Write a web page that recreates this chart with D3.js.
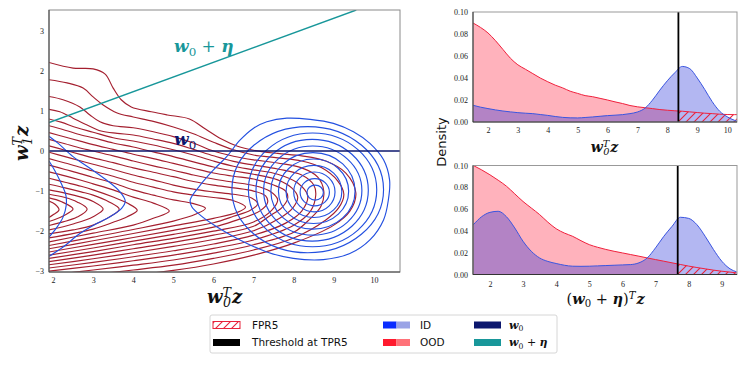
<!DOCTYPE html>
<html><head><meta charset="utf-8">
<script src="https://cdn.jsdelivr.net/npm/d3@7"></script>
<style>body{margin:0;background:#fff}</style>
</head><body>
<svg id="c" width="750" height="365" xmlns="http://www.w3.org/2000/svg"></svg>
<script>
// ---------------- DATA ----------------
// Left panel: projection lines
const w0Line = [[1.9, 0], [10.65, 0]];
const etaLine = [[1.9, 0.71], [9.56, 3.52]];
const leftXTicks = [2, 3, 4, 5, 6, 7, 8, 9, 10];
const leftYTicks = [-3, -2, -1, 0, 1, 2, 3];

const oodContours = [
 [[1.9,2.21],[2.5,2.07],[3.0,2.05],[3.3,1.92],[3.5,1.57],[3.7,1.28],[3.95,1.1],[4.45,0.98],[4.85,0.9],[5.4,0.8],[5.8,0.55],[6.2,0.3],[6.6,0.12],[7.0,0.02],[7.6,-0.06],[8.2,-0.12],[8.8,-0.25],[9.3,-0.55],[9.55,-1.05],[9.4,-1.5],[9.0,-1.85],[8.0,-2.3],[7.0,-2.6],[6.0,-2.82],[5.0,-2.98],[4.0,-3.1],[3.0,-3.2]],
 [[1.9,1.78],[2.35,1.7],[2.75,1.57],[3.0,1.35],[3.25,1.15],[3.6,0.95],[4.0,0.85],[4.5,0.74],[5.0,0.6],[5.5,0.43],[6.0,0.22],[6.5,0.03],[7.0,-0.1],[7.6,-0.17],[8.2,-0.25],[8.7,-0.42],[9.1,-0.75],[9.25,-1.08],[9.12,-1.42],[8.8,-1.72],[8.0,-2.17],[7.0,-2.47],[6.0,-2.68],[5.0,-2.85],[4.0,-2.97],[3.0,-3.08],[1.9,-3.2]],
 [[1.9,1.36],[2.25,1.28],[2.67,1.1],[2.92,0.9],[3.17,0.73],[3.5,0.63],[4.0,0.58],[4.5,0.48],[5.0,0.36],[5.5,0.2],[6.0,0.0],[6.5,-0.13],[7.0,-0.22],[7.6,-0.3],[8.2,-0.42],[8.6,-0.65],[8.75,-1.0],[8.68,-1.38],[8.4,-1.7],[8.0,-2.03],[7.0,-2.34],[6.0,-2.55],[5.0,-2.72],[4.0,-2.85],[3.0,-2.97],[1.9,-3.1]],
 [[1.9,1.04],[2.17,0.98],[2.5,0.82],[2.85,0.65],[3.2,0.5],[3.6,0.44],[4.0,0.4],[4.5,0.3],[5.0,0.19],[5.5,0.04],[6.0,-0.12],[6.5,-0.26],[7.0,-0.35],[7.6,-0.45],[8.2,-0.6],[8.5,-0.85],[8.55,-1.1],[8.42,-1.5],[8.0,-1.85],[7.0,-2.22],[6.0,-2.43],[5.0,-2.6],[4.0,-2.74],[3.0,-2.87],[1.9,-3.0]],
 [[1.9,0.8],[2.2,0.72],[2.6,0.58],[3.0,0.47],[3.5,0.33],[4.0,0.25],[4.5,0.15],[5.0,0.03],[5.5,-0.1],[6.0,-0.25],[6.5,-0.38],[7.0,-0.47],[7.6,-0.58],[8.1,-0.8],[8.35,-1.12],[8.2,-1.5],[7.8,-1.8],[7.0,-2.1],[6.0,-2.32],[5.0,-2.49],[4.0,-2.64],[3.0,-2.78],[1.9,-2.92]],
 [[1.9,0.63],[2.3,0.52],[2.7,0.4],[3.0,0.33],[3.5,0.2],[4.0,0.1],[4.5,-0.02],[5.0,-0.14],[5.5,-0.27],[6.0,-0.4],[6.5,-0.5],[7.0,-0.58],[7.6,-0.72],[7.95,-0.92],[8.1,-1.15],[7.98,-1.42],[7.65,-1.68],[7.0,-1.99],[6.0,-2.21],[5.0,-2.38],[4.0,-2.54],[3.0,-2.69],[1.9,-2.84]],
 [[1.9,0.46],[2.3,0.35],[2.7,0.24],[3.0,0.16],[3.5,0.04],[4.0,-0.08],[4.5,-0.19],[5.0,-0.31],[5.5,-0.43],[6.0,-0.55],[6.5,-0.63],[7.0,-0.7],[7.5,-0.85],[7.8,-1.0],[7.85,-1.18],[7.7,-1.42],[7.4,-1.62],[7.0,-1.88],[6.0,-2.1],[5.0,-2.28],[4.0,-2.44],[3.0,-2.6],[1.9,-2.76]],
 [[1.9,0.29],[2.3,0.18],[2.7,0.07],[3.0,0.0],[3.5,-0.12],[4.0,-0.25],[4.5,-0.37],[5.0,-0.48],[5.5,-0.6],[6.0,-0.7],[6.5,-0.78],[7.0,-0.86],[7.4,-1.0],[7.6,-1.22],[7.45,-1.48],[7.0,-1.77],[6.0,-2.0],[5.0,-2.18],[4.0,-2.34],[3.0,-2.51],[1.9,-2.68]],
 [[1.9,0.13],[2.3,0.02],[2.7,-0.09],[3.0,-0.17],[3.5,-0.29],[4.0,-0.42],[4.5,-0.53],[5.0,-0.64],[5.5,-0.76],[6.0,-0.85],[6.5,-0.92],[7.0,-1.0],[7.3,-1.12],[7.35,-1.28],[7.15,-1.5],[6.5,-1.75],[6.0,-1.9],[5.0,-2.08],[4.0,-2.25],[3.0,-2.42],[1.9,-2.6]],
 [[1.9,-0.03],[2.3,-0.14],[2.7,-0.25],[3.0,-0.33],[3.5,-0.46],[4.0,-0.6],[4.5,-0.72],[5.0,-0.85],[5.5,-0.95],[6.0,-1.02],[6.5,-1.08],[6.95,-1.17],[7.1,-1.32],[6.92,-1.48],[6.5,-1.63],[6.0,-1.79],[5.0,-1.98],[4.0,-2.16],[3.0,-2.33],[1.9,-2.52]],
 [[1.9,-0.19],[2.3,-0.3],[2.7,-0.41],[3.0,-0.5],[3.5,-0.63],[4.0,-0.78],[4.5,-0.9],[5.0,-1.02],[5.5,-1.1],[6.0,-1.16],[6.5,-1.24],[6.8,-1.4],[6.6,-1.53],[6.0,-1.68],[5.0,-1.87],[4.0,-2.06],[3.0,-2.24],[1.9,-2.44]],
 [[1.9,-0.35],[2.3,-0.46],[2.7,-0.57],[3.0,-0.66],[3.5,-0.8],[4.0,-0.97],[4.5,-1.1],[5.0,-1.22],[5.45,-1.3],[5.8,-1.43],[5.55,-1.58],[5.0,-1.75],[4.0,-1.96],[3.0,-2.15],[1.9,-2.36]],
 [[1.9,-0.52],[2.3,-0.62],[2.7,-0.73],[3.0,-0.82],[3.5,-0.97],[4.0,-1.15],[4.5,-1.3],[4.9,-1.5],[4.5,-1.68],[4.0,-1.85],[3.0,-2.05],[1.9,-2.27]],
 [[1.9,-0.68],[2.3,-0.78],[2.7,-0.88],[3.0,-0.97],[3.5,-1.15],[3.85,-1.3],[4.1,-1.48],[3.85,-1.64],[3.5,-1.78],[3.0,-1.95],[1.9,-2.17]],
 [[1.9,-0.83],[2.3,-0.92],[2.7,-1.02],[3.0,-1.1],[3.4,-1.27],[3.65,-1.45],[3.4,-1.65],[3.0,-1.85],[2.5,-1.97],[1.9,-2.07]],
 [[1.9,-0.97],[2.3,-1.05],[2.7,-1.15],[3.0,-1.26],[3.25,-1.45],[3.0,-1.64],[2.5,-1.82],[1.9,-1.97]],
 [[1.9,-1.08],[2.3,-1.16],[2.6,-1.27],[2.85,-1.45],[2.6,-1.65],[2.25,-1.77],[1.9,-1.86]],
 [[1.9,-1.17],[2.2,-1.26],[2.5,-1.45],[2.25,-1.62],[1.9,-1.76]],
 [[1.9,-1.25],[2.05,-1.33],[2.15,-1.47],[2.02,-1.58],[1.9,-1.66]]
];

// ID density contours: nested rings around main mode (left, right, top, bottom extents)
const idRingLeft   = [8.33, 8.16, 8.0, 7.81, 7.62, 7.43, 7.25, 7.06, 6.87, 6.46];
const idRingRight  = [8.74, 8.89, 9.03, 9.2, 9.37, 9.53, 9.7, 9.86, 10.07, 10.24];
const idRingTop    = [-0.85, -0.69, -0.525, -0.36, -0.2, -0.04, 0.125, 0.29, 0.45, 0.61];
const idRingBottom = [-1.225, -1.37, -1.52, -1.66, -1.81, -1.95, -2.1, -2.25, -2.39, -2.54];
// outermost ID contour (with tongue to the left)
const idOuterRing = [[5.42,-1.22],[5.67,-0.85],[6.0,-0.47],[6.33,-0.14],[6.66,0.27],[7.0,0.57],[7.33,0.73],[7.83,0.82],[8.41,0.79],[8.99,0.69],[9.49,0.48],[9.9,0.19],[10.24,-0.22],[10.39,-0.72],[10.36,-1.22],[10.24,-1.72],[9.9,-2.22],[9.4,-2.56],[8.74,-2.71],[7.99,-2.68],[7.33,-2.52],[6.66,-2.22],[6.08,-1.89],[5.67,-1.6],[5.46,-1.39]];
// ID contours of the second mode at the left border
const idLeftOuter = [[1.9,0.37],[2.13,0.19],[2.5,-0.14],[2.92,-0.43],[3.34,-0.73],[3.67,-1.02],[3.8,-1.25],[3.71,-1.43],[3.42,-1.64],[3.09,-1.81],[2.67,-2.06],[2.26,-2.39],[1.9,-2.63]];
const idLeftInner = [[1.9,-0.25],[2.05,-0.5],[2.2,-0.8],[2.32,-1.1],[2.33,-1.35],[2.25,-1.65],[2.1,-1.9],[1.9,-2.15]];

// Right top panel: densities along w0
const w0X   = [1.5,1.75,2,2.25,2.5,2.75,3,3.25,3.5,3.75,4,4.25,4.5,4.75,5,5.25,5.5,5.75,6,6.25,6.5,6.75,7,7.25,7.5,7.75,8,8.25,8.5,8.75,9,9.25,9.5,9.75,10,10.25,10.33];
const w0OOD = [0.090,0.086,0.081,0.074,0.066,0.058,0.052,0.048,0.044,0.040,0.0366,0.0335,0.031,0.028,0.026,0.024,0.023,0.0215,0.020,0.0183,0.0168,0.015,0.0138,0.013,0.0122,0.0113,0.0107,0.0102,0.0098,0.0092,0.0086,0.008,0.0076,0.0071,0.0068,0.0067,0.0067];
const w0ID  = [0.0152,0.0135,0.0122,0.011,0.010,0.0092,0.0085,0.008,0.0076,0.0068,0.006,0.005,0.0042,0.0038,0.0037,0.0041,0.0046,0.0052,0.0058,0.0062,0.0067,0.0076,0.0091,0.0125,0.0198,0.029,0.0375,0.0448,0.0505,0.0485,0.040,0.0296,0.0185,0.0098,0.0048,0.0015,0.0008];
const w0Threshold = 8.37;
const w0XTicks = [2,3,4,5,6,7,8,9,10];

// Right bottom panel: densities along w0 + eta
const etaX   = [1.5,1.75,2,2.25,2.5,2.75,3,3.25,3.5,3.75,4,4.25,4.5,4.75,5,5.25,5.5,5.75,6,6.25,6.5,6.75,7,7.25,7.5,7.75,8,8.25,8.5,8.75,9,9.25,9.45];
const etaOOD = [0.1,0.096,0.0915,0.0865,0.081,0.074,0.067,0.061,0.055,0.048,0.042,0.038,0.035,0.031,0.0274,0.025,0.023,0.0213,0.0198,0.0183,0.0168,0.0152,0.0137,0.0122,0.0107,0.0092,0.0077,0.0064,0.0052,0.004,0.003,0.0022,0.0015];
const etaID  = [0.0457,0.053,0.057,0.058,0.053,0.0427,0.0305,0.0213,0.0152,0.012,0.0101,0.0085,0.0076,0.0075,0.0076,0.0079,0.0082,0.0085,0.0088,0.0091,0.0107,0.0152,0.0244,0.035,0.0442,0.0525,0.0515,0.0457,0.035,0.0229,0.0122,0.0052,0.0024];
const etaThreshold = 7.67;
const etaXTicks = [2,3,4,5,6,7,8,9];
const densityTicks = [0, 0.02, 0.04, 0.06, 0.08, 0.10];

// Legend
const legendItems = [
  {kind:'hatch', label:'FPR5'}, {kind:'pair', c1:'#0a2cff', c2:'#9aa3e6', label:'ID'}, {kind:'solid', c:'#0c176e', label:'w0'},
  {kind:'solid', c:'#000000', label:'Threshold at TPR5'}, {kind:'pair', c1:'#ff1a2e', c2:'#ff7279', label:'OOD'}, {kind:'solid', c:'#18979a', label:'w0eta'}
];

// ---------------- STYLE ----------------
const C = {
  oodContour:'#a41f2f', idContour:'#2350e0', navy:'#0c176e', teal:'#18979a',
  redFill:'rgb(255,30,60)', blueFill:'rgb(25,35,215)', redLine:'#f0203c', blueLine:'#3a55e0'
};
const tickFont = 'Liberation Serif';
const mathFont = 'DejaVu Serif';

const svg = d3.select('#c');
const defs = svg.append('defs');

// helper: math text built as ONE text element with positioned tspans.
// A piece with `stack` holds two script characters placed one above the other (per-glyph x/y).
function mathText(parent, pieces, size, color) {
  const g = parent.append('g');
  const text = g.append('text').attr('fill', color).attr('font-family', mathFont).style('white-space', 'pre');
  let cx = 0;
  const supY = -size * 0.34, subY = size * 0.24;
  pieces.forEach(p => {
    const x0 = cx + (p.dx || 0);
    const t = text.append('tspan')
      .attr('font-style', p.i ? 'italic' : 'normal')
      .attr('font-weight', p.b ? 'bold' : 'normal')
      .text(p.t);
    if (p.stack) {
      t.attr('font-size', size * 0.7).attr('x', `${x0} ${x0 + 0.5}`).attr('y', `${supY} ${subY}`);
      const w = Math.max(t.node().getSubStringLength(0, 1), t.node().getSubStringLength(1, 1));
      cx = x0 + w + 0.5;
    } else {
      const fs = (p.sub || p.sup) ? size * 0.7 : size;
      t.attr('font-size', fs).attr('x', x0).attr('y', p.sub ? subY : p.sup ? supY : 0);
      cx = x0 + t.node().getComputedTextLength();
    }
  });
  const bb = text.node().getBBox();
  return { g, inner: text, width: bb.width, left: bb.x };
}
function centerMath(m, x, y, rot) {
  m.inner.attr('transform', `translate(${-m.left - m.width / 2},0)`);
  m.g.attr('transform', rot ? `translate(${x},${y}) rotate(${rot})` : `translate(${x},${y})`);
}
const W0T_Z = [{t:'w',i:1,b:1},{t:'T0',stack:1,i:1},{t:'z',i:1,b:1,dx:0.5}];

// ---------------- LEFT PANEL ----------------
const xL = d3.scaleLinear().domain([1.9, 10.65]).range([49, 400]);
const yL = d3.scaleLinear().domain([-3.02, 3.52]).range([272, 10]);
defs.append('clipPath').attr('id', 'clipL').append('rect')
  .attr('x', xL.range()[0]).attr('y', yL.range()[1])
  .attr('width', xL.range()[1] - xL.range()[0]).attr('height', yL.range()[0] - yL.range()[1]);

const gL = svg.append('g');
const plotL = gL.append('g').attr('clip-path', 'url(#clipL)');
const lineL = d3.line().x(d => xL(d[0])).y(d => yL(d[1])).curve(d3.curveCatmullRom.alpha(0.5));
const lineLClosed = d3.line().x(d => xL(d[0])).y(d => yL(d[1])).curve(d3.curveCatmullRomClosed.alpha(0.5));

plotL.selectAll('path.ood').data(oodContours).join('path').attr('class', 'ood')
  .attr('d', lineL).attr('fill', 'none').attr('stroke', C.oodContour).attr('stroke-width', 1.15);

plotL.selectAll('ellipse.id').data(idRingLeft.map((l, i) => ({l, r: idRingRight[i], t: idRingTop[i], b: idRingBottom[i]})))
  .join('ellipse').attr('class', 'id')
  .attr('cx', d => (xL(d.l) + xL(d.r)) / 2).attr('cy', d => (yL(d.t) + yL(d.b)) / 2)
  .attr('rx', d => (xL(d.r) - xL(d.l)) / 2).attr('ry', d => (yL(d.b) - yL(d.t)) / 2)
  .attr('fill', 'none').attr('stroke', C.idContour).attr('stroke-width', 1.15);
plotL.append('path').attr('d', lineLClosed(idOuterRing)).attr('fill', 'none').attr('stroke', C.idContour).attr('stroke-width', 1.15);
[idLeftOuter, idLeftInner].forEach(c => plotL.append('path').attr('d', lineL(c)).attr('fill', 'none').attr('stroke', C.idContour).attr('stroke-width', 1.15));

const straight = d3.line().x(d => xL(d[0])).y(d => yL(d[1]));
plotL.append('path').attr('d', straight(etaLine)).attr('stroke', C.teal).attr('stroke-width', 1.4).attr('fill', 'none');
plotL.append('path').attr('d', straight(w0Line)).attr('stroke', C.navy).attr('stroke-width', 1.6).attr('fill', 'none');

// frame
gL.append('rect').attr('x', xL.range()[0]).attr('y', yL.range()[1])
  .attr('width', xL.range()[1] - xL.range()[0]).attr('height', yL.range()[0] - yL.range()[1])
  .attr('fill', 'none').attr('stroke', '#8a8a8a').attr('stroke-width', 1);
gL.append('line').attr('x1', 49).attr('x2', 49).attr('y1', 10).attr('y2', 272).attr('stroke', '#444');
gL.append('line').attr('x1', 49).attr('x2', 400).attr('y1', 272).attr('y2', 272).attr('stroke', '#444');

function styleAxis(g) {
  g.select('.domain').remove();
  g.selectAll('text').attr('font-family', tickFont).attr('font-size', 8).attr('fill', '#222');
}
const fmtMinus = d => (d < 0 ? '\u2212' + Math.abs(d) : String(d));
gL.append('g').attr('transform', `translate(0,${yL.range()[0]})`)
  .call(d3.axisBottom(xL).tickValues(leftXTicks).tickSize(0).tickPadding(5.5).tickFormat(fmtMinus)).call(styleAxis);
gL.append('g').attr('transform', `translate(${xL.range()[0]},0)`)
  .call(d3.axisLeft(yL).tickValues(leftYTicks).tickSize(0).tickPadding(5).tickFormat(fmtMinus)).call(styleAxis);

// annotation labels
{
  const a = mathText(gL, [{t:'w',i:1,b:1},{t:'0',sub:1},{t:' + '},{t:'\u03B7',i:1,b:1}], 17, C.teal);
  a.g.attr('transform', `translate(174,52)`);
  const b = mathText(gL, [{t:'w',i:1,b:1},{t:'0',sub:1}], 17, C.navy);
  b.g.attr('transform', `translate(174,145)`);
  const xl = mathText(gL, W0T_Z, 18, '#111');
  centerMath(xl, 225, 303);
  const yl = mathText(gL, [{t:'w',i:1,b:1},{t:'T1',stack:1,i:1},{t:'z',i:1,b:1,dx:0.5}], 18, '#111');
  centerMath(yl, 28, 143, -90);
}

// ---------------- RIGHT PANELS ----------------
defs.append('pattern').attr('id', 'hatch').attr('patternUnits', 'userSpaceOnUse').attr('width', 8).attr('height', 8)
  .append('path').attr('d', 'M0,8 L8,0 M-2,2 L2,-2 M6,10 L10,6').attr('stroke', '#e8223a').attr('stroke-width', 1.1);

function densityPanel(id, xs, ood, idv, thr, xDomain, top, bottom, xTicks, tickPad) {
  const x = d3.scaleLinear().domain(xDomain).range([473, 737]);
  const y = d3.scaleLinear().domain([0, 0.1]).range([bottom, top]);
  const g = svg.append('g');
  const oodPts = xs.map((v, i) => [v, ood[i]]);
  const idPts = xs.map((v, i) => [v, idv[i]]);
  const area = d3.area().x(d => x(d[0])).y0(y(0)).y1(d => y(d[1])).curve(d3.curveMonotoneX);
  const line = d3.line().x(d => x(d[0])).y(d => y(d[1])).curve(d3.curveMonotoneX);
  defs.append('clipPath').attr('id', id + 'L').append('rect').attr('x', 473).attr('y', top).attr('width', x(thr) - 473).attr('height', bottom - top);
  defs.append('clipPath').attr('id', id + 'R').append('rect').attr('x', x(thr)).attr('y', top).attr('width', 737 - x(thr)).attr('height', bottom - top);
  g.append('path').attr('d', area(oodPts)).attr('fill', C.redFill).attr('fill-opacity', 0.34).attr('clip-path', `url(#${id}L)`);
  g.append('path').attr('d', area(idPts)).attr('fill', C.blueFill).attr('fill-opacity', 0.33);
  g.append('path').attr('d', area(oodPts)).attr('fill', 'url(#hatch)').attr('clip-path', `url(#${id}R)`);
  g.append('path').attr('d', line(oodPts)).attr('fill', 'none').attr('stroke', C.redLine).attr('stroke-width', 1);
  g.append('path').attr('d', line(idPts)).attr('fill', 'none').attr('stroke', C.blueLine).attr('stroke-width', 1);
  g.append('line').attr('x1', x(thr)).attr('x2', x(thr)).attr('y1', top).attr('y2', bottom).attr('stroke', '#000').attr('stroke-width', 1.8);
  g.append('rect').attr('x', 473).attr('y', top).attr('width', 264).attr('height', bottom - top).attr('fill', 'none').attr('stroke', '#999');
  g.append('line').attr('x1', 473).attr('x2', 473).attr('y1', top).attr('y2', bottom).attr('stroke', '#333');
  g.append('line').attr('x1', 473).attr('x2', 737).attr('y1', bottom).attr('y2', bottom).attr('stroke', '#333');
  g.append('g').attr('transform', `translate(0,${bottom})`)
    .call(d3.axisBottom(x).tickValues(xTicks).tickSize(0).tickPadding(tickPad)).call(styleAxis);
  g.append('g').attr('transform', `translate(473,0)`)
    .call(d3.axisLeft(y).tickValues(densityTicks).tickSize(0).tickPadding(5).tickFormat(d3.format('.2f'))).call(styleAxis);
  return g;
}
densityPanel('top', w0X, w0OOD, w0ID, w0Threshold, [1.5, 10.33], 12, 122, w0XTicks, 5);
densityPanel('bot', etaX, etaOOD, etaID, etaThreshold, [1.49, 9.46], 165.5, 274.5, etaXTicks, 7);

{
  const t = mathText(svg, W0T_Z, 14, '#111');
  centerMath(t, 605, 152);
  const b = mathText(svg, [{t:'('},{t:'w',i:1,b:1},{t:'0',sub:1},{t:' + '},{t:'\u03B7',i:1,b:1},{t:')'},{t:'T',sup:1,i:1},{t:'z',i:1,b:1,dx:1}], 14.5, '#111');
  centerMath(b, 606, 304);
  svg.append('text').attr('transform', 'translate(446,142) rotate(-90)').attr('text-anchor', 'middle')
    .attr('font-family', 'DejaVu Sans').attr('font-size', 13).attr('fill', '#111').text('Density');
}

// ---------------- LEGEND ----------------
{
  const lg = svg.append('g');
  lg.append('rect').attr('x', 210).attr('y', 315).attr('width', 347).attr('height', 38).attr('rx', 2)
    .attr('fill', '#fff').attr('stroke', '#d6d6d6');
  const colX = [213, 383, 474], textX = [252, 420, 509], rowY = [325, 342.5];
  legendItems.forEach((it, i) => {
    const col = i % 3, row = Math.floor(i / 3);
    const sx = colX[col], sy = rowY[row] - 3.5, sw = 27, sh = 7;
    if (it.kind === 'hatch') {
      lg.append('rect').attr('x', sx).attr('y', sy).attr('width', sw).attr('height', sh).attr('fill', 'url(#hatch)').attr('stroke', '#e8223a').attr('stroke-width', 1);
    } else if (it.kind === 'pair') {
      lg.append('rect').attr('x', sx).attr('y', sy).attr('width', sw / 2).attr('height', sh).attr('fill', it.c1);
      lg.append('rect').attr('x', sx + sw / 2).attr('y', sy).attr('width', sw / 2).attr('height', sh).attr('fill', it.c2);
    } else {
      lg.append('rect').attr('x', sx).attr('y', sy).attr('width', sw).attr('height', sh).attr('fill', it.c);
    }
    if (it.label === 'w0') {
      const m = mathText(lg, [{t:'w',i:1,b:1},{t:'0',sub:1}], 11, '#111');
      m.g.attr('transform', `translate(${textX[col]},${rowY[row] + 3.5})`);
    } else if (it.label === 'w0eta') {
      const m = mathText(lg, [{t:'w',i:1,b:1},{t:'0',sub:1},{t:' + '},{t:'\u03B7',i:1,b:1}], 11, '#111');
      m.g.attr('transform', `translate(${textX[col]},${rowY[row] + 3.5})`);
    } else {
      lg.append('text').attr('x', textX[col]).attr('y', rowY[row] + 3.8)
        .attr('font-family', 'DejaVu Sans').attr('font-size', 10.5).attr('fill', '#111').text(it.label);
    }
  });
}
</script>
</body></html>
